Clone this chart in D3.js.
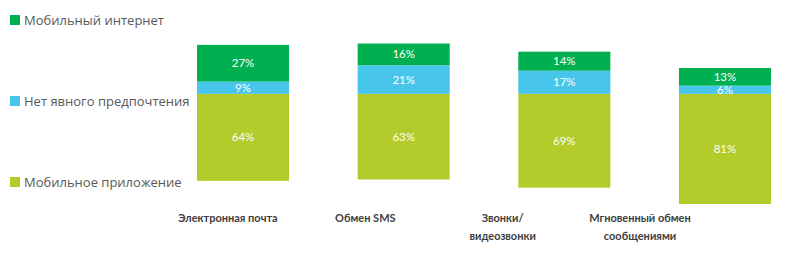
<!DOCTYPE html>
<html>
<head>
<meta charset="utf-8">
<script src="https://cdn.jsdelivr.net/npm/d3@7"></script>
<style>
  html, body { margin: 0; padding: 0; background: #fff; }
  svg { display: block; }
</style>
</head>
<body>
<svg id="chart" width="800" height="255"></svg>
<script>
// ---- data ----
const categories = ["Электронная почта", "Обмен SMS", "Звонки/\nвидеозвонки", "Мгновенный обмен\nсообщениями"];
const seriesNames = ["Мобильное приложение", "Нет явного предпочтения", "Мобильный интернет"];
const mobileApp = [64, 63, 69, 81];
const noPreference = [9, 21, 17, 6];
const mobileWeb = [27, 16, 14, 13];
const hiddenBase = [17, 18, 12, 0]; // invisible spacer series under each bar
const legendOrder = ["Мобильный интернет", "Нет явного предпочтения", "Мобильное приложение"];

const colors = {
  "Мобильное приложение": "#b3cb2b",
  "Нет явного предпочтения": "#48c5ea",
  "Мобильный интернет": "#00b050"
};

const svg = d3.select("#chart");

const x = d3.scaleBand().domain(categories).range([197, 771]).paddingInner(0.427).paddingOuter(0);
const xLabel = d3.scalePoint().domain(categories).range([228, 640]);
const y = d3.scaleLinear().domain([0, 120]).range([204, 204 - 163.2]);

const rows = categories.map((c, i) => ({
  cat: c,
  base: hiddenBase[i],
  "Мобильное приложение": mobileApp[i],
  "Нет явного предпочтения": noPreference[i],
  "Мобильный интернет": mobileWeb[i]
}));

const stack = d3.stack().keys(["base"].concat(seriesNames));
const stacked = stack(rows);

stacked.filter(s => s.key !== "base").forEach(s => {
  const g = svg.append("g");
  g.selectAll("rect").data(s).join("rect")
    .attr("x", d => x(d.data.cat))
    .attr("width", x.bandwidth())
    .attr("y", d => y(d[1]))
    .attr("height", d => y(d[0]) - y(d[1]))
    .attr("fill", colors[s.key]);
  g.selectAll("text").data(s).join("text")
    .attr("x", d => x(d.data.cat) + x.bandwidth() / 2)
    .attr("y", d => (y(d[0]) + y(d[1])) / 2)
    .attr("dy", "0.35em")
    .attr("text-anchor", "middle")
    .attr("font-family", "Lato, 'Noto Sans', sans-serif")
    .attr("font-size", 11.5)
    .attr("fill", "#ffffff")
    .text(d => d.data[s.key] + "%");
});

// category labels
const labG = svg.append("g");
categories.forEach(c => {
  const lines = c.split("\n");
  const t = labG.append("text")
    .attr("x", xLabel(c))
    .attr("y", 222)
    .attr("text-anchor", "middle")
    .attr("font-family", "Lato, 'Noto Sans', sans-serif")
    .attr("font-size", 11)
    .attr("font-weight", "bold")
    .attr("fill", "#404040");
  lines.forEach((l, i) => {
    t.append("tspan").attr("x", xLabel(c)).attr("dy", i === 0 ? 0 : 18).text(l);
  });
});

// legend
const legendY = d3.scalePoint().domain(legendOrder).range([25, 187]);
const leg = svg.append("g");
legendOrder.forEach(n => {
  leg.append("rect")
    .attr("x", 10).attr("y", legendY(n) - 10)
    .attr("width", 10).attr("height", 10)
    .attr("fill", colors[n]);
  leg.append("text")
    .attr("x", 24).attr("y", legendY(n))
    .attr("font-family", "'Open Sans', 'Noto Sans', sans-serif")
    .attr("font-size", 13)
    .attr("fill", "#595959")
    .text(n);
});
</script>
</body>
</html>
